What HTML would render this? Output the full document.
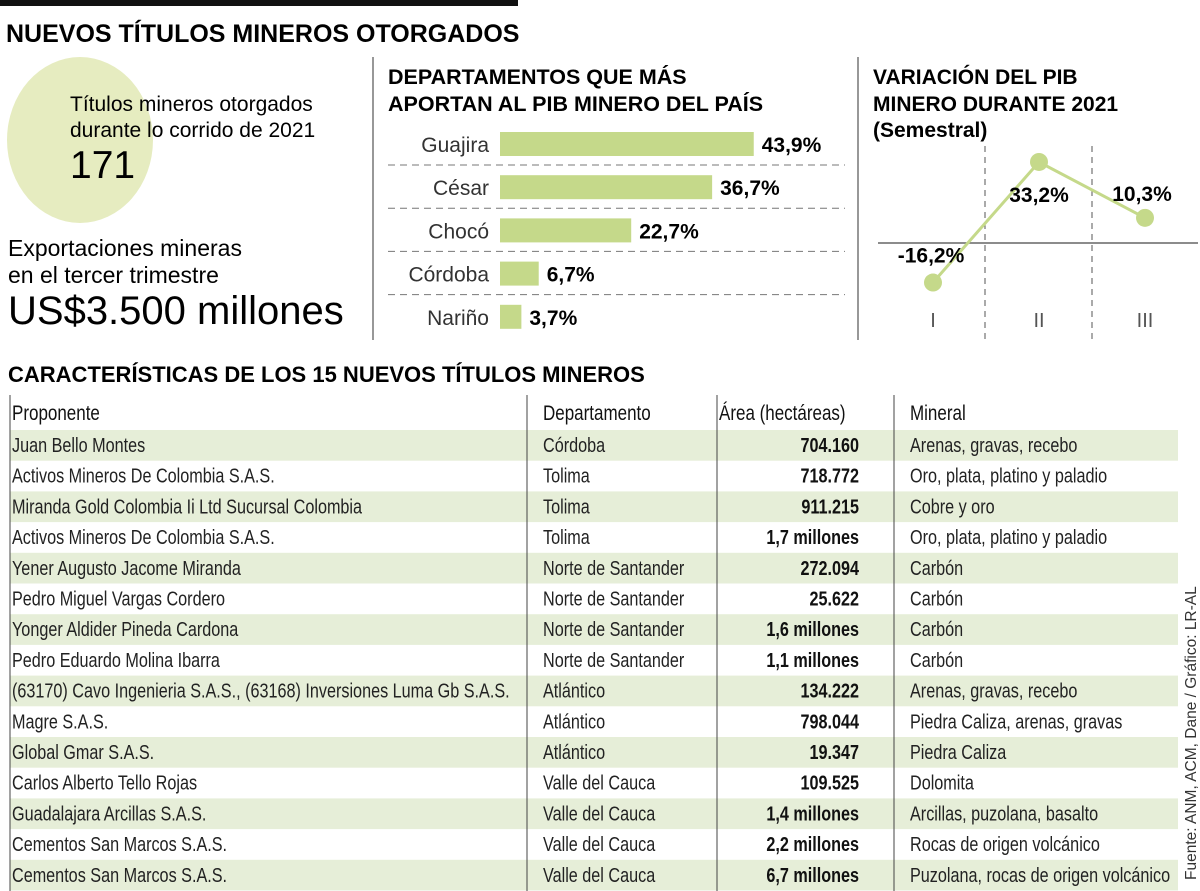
<!DOCTYPE html>
<html><head><meta charset="utf-8"><style>
body{margin:0;width:1200px;height:891px;background:#fff;overflow:hidden;font-family:"Liberation Sans",sans-serif;color:#111}
svg{position:absolute;left:0;top:0}
</style></head><body>
<svg width="1200" height="891">
<rect x="0" y="0" width="518" height="6" fill="#111"/>
<text x="6" y="42" font-size="25" font-weight="bold">NUEVOS TÍTULOS MINEROS OTORGADOS</text>
<ellipse cx="80" cy="140" rx="73" ry="83" fill="#e6ecc0"/>
<text x="70" y="111" font-size="21">Títulos mineros otorgados</text>
<text x="70" y="137" font-size="21">durante lo corrido de 2021</text>
<text x="70" y="178" font-size="39">171</text>
<text x="8" y="256" font-size="23">Exportaciones mineras</text>
<text x="8" y="283" font-size="23">en el tercer trimestre</text>
<text x="8" y="324" font-size="40">US$3.500 millones</text>
<line x1="373" y1="57" x2="373" y2="340" stroke="#777" stroke-width="1.5"/>
<line x1="858" y1="57" x2="858" y2="340" stroke="#777" stroke-width="1.5"/>
<text x="388" y="84" font-size="21.5" font-weight="bold">DEPARTAMENTOS QUE MÁS</text>
<text x="388" y="111" font-size="21.5" font-weight="bold">APORTAN AL PIB MINERO DEL PAÍS</text>
<g id="bars"></g>
<text x="873" y="84" font-size="21" font-weight="bold">VARIACIÓN DEL PIB</text>
<text x="873" y="111" font-size="21" font-weight="bold">MINERO DURANTE 2021</text>
<text x="873" y="137" font-size="21" font-weight="bold">(Semestral)</text>
<g id="line"></g>
<text x="8" y="382" font-size="22" font-weight="bold">CARACTERÍSTICAS DE LOS 15 NUEVOS TÍTULOS MINEROS</text>
<g id="table"></g>
<text transform="translate(1196,880) rotate(-90)" font-size="15.5" fill="#333">Fuente: ANM, ACM, Dane / Gráfico: LR-AL</text>
</svg>
<script>
const NS="http://www.w3.org/2000/svg";
const barCats=["Guajira","César","Chocó","Córdoba","Nariño"];
const barVals=[43.9,36.7,22.7,6.7,3.7];
const barLabels=["43,9%","36,7%","22,7%","6,7%","3,7%"];
const lineCats=["I","II","III"];
const lineVals=[-16.2,33.2,10.3];
const lineLabels=["-16,2%","33,2%","10,3%"];
const rowNames=["Juan Bello Montes","Activos Mineros De Colombia S.A.S.","Miranda Gold Colombia Ii Ltd Sucursal Colombia","Activos Mineros De Colombia S.A.S.","Yener Augusto Jacome Miranda","Pedro Miguel Vargas Cordero","Yonger Aldider Pineda Cardona","Pedro Eduardo Molina Ibarra","(63170) Cavo Ingenieria S.A.S., (63168) Inversiones Luma Gb S.A.S.","Magre S.A.S.","Global Gmar S.A.S.","Carlos Alberto Tello Rojas","Guadalajara Arcillas S.A.S.","Cementos San Marcos S.A.S.","Cementos San Marcos S.A.S."];
const rowDepts=["Córdoba","Tolima","Tolima","Tolima","Norte de Santander","Norte de Santander","Norte de Santander","Norte de Santander","Atlántico","Atlántico","Atlántico","Valle del Cauca","Valle del Cauca","Valle del Cauca","Valle del Cauca"];
const rowAreas=["704.160","718.772","911.215","1,7 millones","272.094","25.622","1,6 millones","1,1 millones","134.222","798.044","19.347","109.525","1,4 millones","2,2 millones","6,7 millones"];
const rowMinerals=["Arenas, gravas, recebo","Oro, plata, platino y paladio","Cobre y oro","Oro, plata, platino y paladio","Carbón","Carbón","Carbón","Carbón","Arenas, gravas, recebo","Piedra Caliza, arenas, gravas","Piedra Caliza","Dolomita","Arcillas, puzolana, basalto","Rocas de origen volcánico","Puzolana, rocas de origen volcánico"];
function mk(tag,attrs,parent,txt){const e=document.createElementNS(NS,tag);for(const k in attrs)e.setAttribute(k,attrs[k]);if(txt!==undefined)e.textContent=txt;parent.appendChild(e);return e;}
// bar chart
const bx=v=>500+v*5.78, bTop=i=>132+i*43.2;
const bg=document.getElementById('bars');
barCats.forEach((c,i)=>{
  const y=bTop(i);
  const l=mk('text',{x:489,y:y+20,'font-size':21,'text-anchor':'end',fill:'#333'},bg,c);
  
  
  const r=mk('rect',{x:500,y:y,width:bx(barVals[i])-500,height:24,fill:'#c5d98a'},bg);
  
  
  const v=mk('text',{x:bx(barVals[i])+8,y:y+20,'font-size':21,'font-weight':'bold'},bg,barLabels[i]);
  
  
  if(i<barCats.length-1){
    const d=mk('line',{x1:388,x2:845,y1:y+33,y2:y+33,stroke:'#777','stroke-dasharray':'7,5'},bg);
    
    
  }
});
// line chart
const lg=document.getElementById('line');
const lx=i=>933+i*106, ly=v=>243-v*2.44;
[985,1092].forEach(x=>{const d=mk('line',{x1:x,x2:x,y1:146,y2:340,stroke:'#555','stroke-dasharray':'6,5'},lg);
  
  });
const z=mk('line',{x1:878,x2:1198,y1:ly(0),y2:ly(0),stroke:'#666','stroke-width':1.5},lg);


const pl=mk('polyline',{points:lineVals.map((v,i)=>lx(i)+','+ly(v)).join(' '),fill:'none',stroke:'#c5d98a','stroke-width':3},lg);


const lblOff=[[-2,-20],[0,40],[-3,-17]];
lineVals.forEach((v,i)=>{
  const c=mk('circle',{cx:lx(i),cy:ly(v),r:9,fill:'#c5d98a'},lg);
  
  
  const t=mk('text',{x:lx(i)+lblOff[i][0],y:ly(v)+lblOff[i][1],'font-size':21,'font-weight':'bold','text-anchor':'middle'},lg,lineLabels[i]);
  
  
  const a=mk('text',{x:lx(i),y:327,'font-size':20,'text-anchor':'middle',fill:'#555'},lg,lineCats[i]);
  
  
});
// table
const tg=document.getElementById('table');
const rowH=30.7, r0=430, SX=0.81;
rowNames.forEach((n,i)=>{if(i%2===0){const r=mk('rect',{x:10,y:r0+i*rowH,width:1168,height:rowH,fill:'#e6eed8'},tg);
  
  }});
[10,527,717,894].forEach(x=>{const l=mk('line',{x1:x,x2:x,y1:395,y2:891,stroke:'#444','stroke-width':1},tg);
  
  });
function cell(txt,x,y,extra){const a=Object.assign({transform:'translate('+x+','+y+') scale('+SX+',1)','font-size':20,fill:'#222'},extra||{});return mk('text',a,tg,txt);}
const hdr=[["Proponente",12],["Departamento",543],["Área (hectáreas)",719],["Mineral",910]];
hdr.forEach(h=>{const t=cell(h[0],h[1],420,{'font-size':21,fill:'#111'});
  
  });
rowNames.forEach((n,i)=>{
  const y=r0+i*rowH+22;
  const a=cell(n,12,y);
  
  
  const b=cell(rowDepts[i],543,y);
  
  
  const c=cell(rowAreas[i],859,y,{'font-weight':'bold','text-anchor':'end',fill:'#111'});
  
  
  const d=cell(rowMinerals[i],910,y);
  
  
});
</script>
</body></html>
